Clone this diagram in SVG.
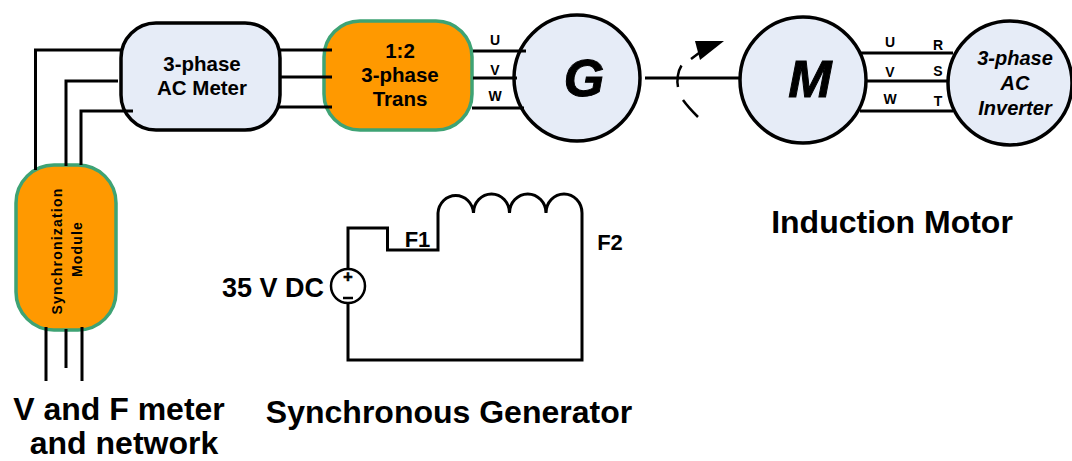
<svg xmlns="http://www.w3.org/2000/svg" width="1072" height="461" viewBox="0 0 1072 461">
<style>
text{font-family:"Liberation Sans",Arial,sans-serif;font-weight:bold;fill:#000;text-anchor:middle}
.w{fill:none;stroke:#000;stroke-width:3}
.k{fill:#e6ecf7;stroke:#000;stroke-width:3.5}
.o{fill:#ff9900;stroke:#3ea374;stroke-width:3.5}
.l{font-size:20.5px}
.p{font-size:14px}
.big{font-size:32px}
.inv{font-size:20px;font-style:italic}
.mach{font-size:52px;font-style:italic;stroke:#000;stroke-width:1}
.rot{font-size:14px;letter-spacing:1.2px}
</style>
<g id="ac-meter"><rect class="k" x="121" y="23" width="159" height="107" rx="35"/><text class="l" x="202" y="71">3-phase</text><text class="l" x="202" y="95">AC Meter</text></g>
<g id="transformer"><rect class="o" x="324" y="21" width="148" height="109" rx="36"/><text class="l" x="400" y="58">1:2</text><text class="l" x="400" y="82">3-phase</text><text class="l" x="400" y="106">Trans</text></g>
<g id="generator"><circle class="k" cx="577" cy="78" r="63"/><text class="mach" x="584" y="96">G</text></g>
<g id="motor"><circle class="k" cx="803" cy="80" r="63"/><text class="mach" x="810" y="97">M</text></g>
<g id="inverter"><circle class="k" cx="1010" cy="83" r="62"/><text class="inv" x="1015" y="65">3-phase</text><text class="inv" x="1015" y="90">AC</text><text class="inv" x="1015" y="115">Inverter</text></g>
<g id="sync-module"><rect class="o" x="16" y="165" width="100" height="165" rx="38"/><text class="rot" transform="translate(62 251) rotate(-90)">Synchronization</text><text class="rot" transform="translate(81.500 249) rotate(-90)">Module</text></g>
<g id="connectors">
<path class="w" d="M121 50H35.500V170M118 81H66V166M133 111H81V165"/>
<path class="w" d="M279 50H332M279 77H332M279 107H332"/>
<path class="w" d="M473 51H526M473 78H517M472 108H524"/>
<path class="w" d="M645 78H740"/>
<path class="w" d="M859 53H953M867 81H947M860 111H953"/>
<path class="w" d="M46 327V381M66 329V368M82 327V381"/>
<path class="w" d="M348 269V228H387.500V250H438V213A17.800 19 0 0 1 473.500 213A18 19 0 0 1 509.500 213A18.200 19 0 0 1 546 213A18 19 0 0 1 582 213V360H348V303"/>
<path class="w" style="stroke-width:2.500" d="M681.500 65.500C678 71 676.500 80 678 87M683 100C688 107 693 112 698 117M691 59L703 50"/>
<path d="M695 41L724 41L700 60Z" fill="#000"/>
</g>
<g id="source"><circle cx="348" cy="286" r="17" fill="#fff" stroke="#000" stroke-width="2.500"/><text font-size="16" stroke="#000" stroke-width=".7" x="348" y="281.500">+</text><path d="M343 298H353" stroke="#000" stroke-width="2.500"/></g>
<g id="labels">
<text class="p" x="495" y="45">U</text><text class="p" x="495" y="75">V</text><text class="p" x="495" y="101">W</text>
<text class="p" x="890" y="47">U</text><text class="p" x="890" y="77">V</text><text class="p" x="890" y="104">W</text>
<text class="p" x="938" y="50">R</text><text class="p" x="938" y="76">S</text><text class="p" x="938" y="106">T</text>
<text font-size="22" x="417.500" y="247">F1</text><text font-size="22" x="610" y="250">F2</text>
<text font-size="27" x="273" y="297">35 V DC</text>
<text class="big" x="892" y="233">Induction Motor</text>
<text class="big" x="449" y="423">Synchronous Generator</text>
<text class="big" x="119" y="420">V and F meter</text>
<text class="big" x="124" y="454">and network</text>
</g>
</svg>
